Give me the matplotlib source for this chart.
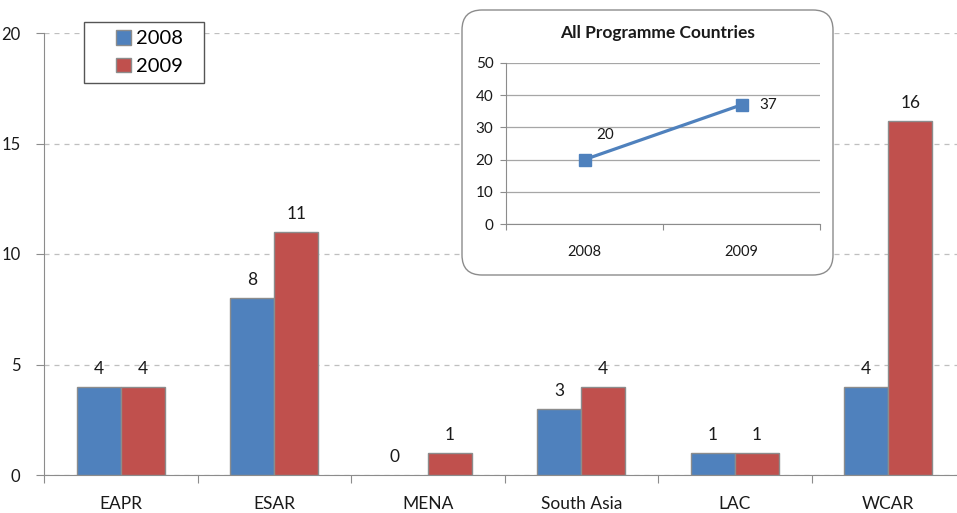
import numpy as np
import matplotlib.pyplot as plt
from matplotlib.patches import FancyBboxPatch, Rectangle

plt.rcParams['font.family'] = ['Lato', 'DejaVu Sans']

regions = ['EAPR', 'ESAR', 'MENA', 'South Asia', 'LAC', 'WCAR']
vals_2008 = [4, 8, 0, 3, 1, 4]
vals_2009 = [4, 11, 1, 4, 1, 16]
years = ['2008', '2009']
totals = [20, 37]

blue = '#4F81BD'
red = '#C0504D'
edge = '#8C8C8C'
txt = '#1a1a1a'

fig = plt.figure(figsize=(9.57, 5.13), dpi=100)
ax = fig.add_axes([44/957, 1-475/513, (965-44)/957, (475-33)/513])

x = np.arange(len(regions)) + 0.5
w = 0.287
b1 = ax.bar(x - w/2, vals_2008, w, color=blue, edgecolor=edge, linewidth=1, label='2008', zorder=3)
b2 = ax.bar(x + w/2, vals_2009, w, color=red, edgecolor=edge, linewidth=1, label='2009', zorder=3)
for bars, vals in [(b1, vals_2008), (b2, vals_2009)]:
    for r, v in zip(bars, vals):
        dx = 0
        if v == 0:
            r.set_visible(False)
            dx = -8
        ax.annotate(str(v), (r.get_x() + r.get_width()/2, v), xytext=(dx, 13),
                    textcoords='offset points', ha='center', va='center',
                    fontsize=12.5, color=txt)

ax.set_xlim(0, len(regions))
ax.set_ylim(0, 20)
ax.set_yticks([0, 5, 10, 15, 20])
ax.yaxis.grid(True, linestyle=(0, (4, 4)), color='#BFBFBF', linewidth=0.9)
ax.set_axisbelow(True)
ax.set_xticks(np.arange(len(regions) + 1))
ax.set_xticklabels([])
ax.set_xticks(x, minor=True)
ax.set_xticklabels(regions, minor=True)
ax.tick_params(axis='x', which='minor', length=0, pad=15, labelsize=12.5, labelcolor=txt)
ax.tick_params(axis='x', which='major', length=6, color=edge)
ax.tick_params(axis='y', length=6, color=edge, labelsize=12, labelcolor=txt, pad=11)
for s in ['top', 'right']:
    ax.spines[s].set_visible(False)
ax.spines['left'].set_color(edge)
ax.spines['bottom'].set_color(edge)

# legend with a wider hand-drawn frame
frame = Rectangle((84/957, 1-83/513), 120/957, 61/513, transform=fig.transFigure,
                  facecolor='white', edgecolor='#555555', linewidth=1, zorder=4)
fig.patches.append(frame)
leg = fig.legend(handles=[b1, b2], loc='upper left', bbox_to_anchor=(110/957, 1-24/513),
                 fontsize=14.5, frameon=False,
                 handlelength=0.75, handleheight=0.75, handletextpad=0.25,
                 borderpad=0.3, labelspacing=0.5, borderaxespad=0)
leg.set_zorder(5)

# inset box
box = FancyBboxPatch((4.62 + 0.2, 2.38 + 0.2), 3.71 - 0.4, 2.65 - 0.4,
                     boxstyle='round,pad=0.2', transform=fig.dpi_scale_trans,
                     facecolor='white', edgecolor=edge, linewidth=1, zorder=5)
fig.patches.append(box)

ins = fig.add_axes([506/957, 1-224/513, (820-506)/957, (224-63)/513], zorder=6)
ins.patch.set_alpha(0)
xi = np.array([0.5, 1.5])
ins.plot(xi, totals, color=blue, linewidth=2.3, marker='s', markersize=9, zorder=3)
ins.annotate(str(totals[0]), (xi[0], totals[0]), xytext=(15, 18), textcoords='offset points',
             ha='center', va='center', fontsize=11, color=txt)
ins.annotate(str(totals[1]), (xi[1], totals[1]), xytext=(19, 0), textcoords='offset points',
             ha='center', va='center', fontsize=11, color=txt)
ins.set_xlim(0, 2)
ins.set_ylim(0, 50)
ins.set_yticks(range(0, 51, 10))
ins.yaxis.grid(True, color='#A6A6A6', linewidth=0.9)
ins.set_axisbelow(True)
ins.set_xticks([0, 1, 2])
ins.set_xticklabels([])
ins.set_xticks(xi, minor=True)
ins.set_xticklabels(years, minor=True)
ins.tick_params(axis='x', which='minor', length=0, pad=15, labelsize=10.5, labelcolor=txt)
ins.tick_params(axis='x', which='major', length=4, color=edge)
ins.tick_params(axis='y', length=4, color=edge, labelsize=11, labelcolor=txt, pad=5)
for s in ['top', 'right']:
    ins.spines[s].set_visible(False)
ins.spines['left'].set_color(edge)
ins.spines['bottom'].set_color(edge)
fig.text(658/957, 1-33/513, 'All Programme Countries', ha='center', va='center',
         fontsize=12.5, fontweight='bold', color=txt, zorder=7)

fig.savefig('out.png', dpi=100)
